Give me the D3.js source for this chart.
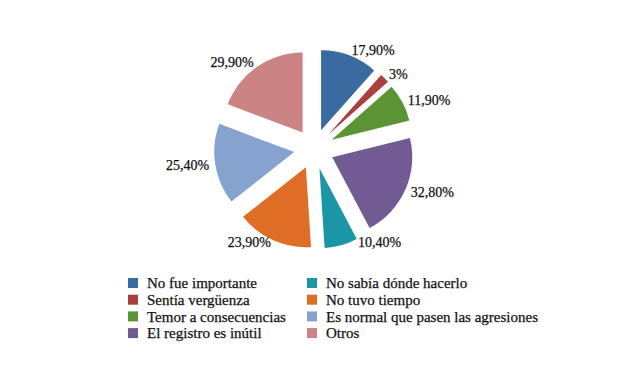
<!DOCTYPE html>
<html>
<head>
<meta charset="utf-8">
<script src="https://cdn.jsdelivr.net/npm/d3@7"></script>
<style>
  body { margin: 0; background: #fff; }
  text { font-family: "Liberation Serif", "DejaVu Serif", serif; fill: #111; stroke: #111; stroke-width: 0.25px; }
</style>
</head>
<body>
<div id="chart"></div>
<script>
// Data
const categories = [
  "No fue importante",
  "Sentía vergüenza",
  "Temor a consecuencias",
  "El registro es inútil",
  "No sabía dónde hacerlo",
  "No tuvo tiempo",
  "Es normal que pasen las agresiones",
  "Otros"
];
const values = [17.9, 3, 11.9, 32.8, 10.4, 23.9, 25.4, 29.9];
const valueLabels = ["17,90%", "3%", "11,90%", "32,80%", "10,40%", "23,90%", "25,40%", "29,90%"];
const colors = ["#3a6ba0", "#a9403c", "#5c9434", "#725b95", "#1b96a6", "#e06d25", "#86a3d0", "#cc8383"];

// Layout
const width = 620;
const height = 368;
const cx = 314;
const cy = 149;
const radius = 80;
const explode = 20;
const labelRadius = 106;

const svg = d3.select("#chart")
  .append("svg")
    .attr("width", width)
    .attr("height", height);

const rows = categories.map(function(c, i) {
  return { name: c, value: values[i], label: valueLabels[i], color: colors[i] };
});

const pie = d3.pie()
  .sort(null)
  .value(function(d) { return d.value; });

const arc = d3.arc()
  .innerRadius(0)
  .outerRadius(radius);

const slices = pie(rows);

const g = svg.append("g")
  .attr("transform", `translate(${cx},${cy})`);

function midAngle(d) { return (d.startAngle + d.endAngle) / 2; }

// exploded slices
g.selectAll("path")
  .data(slices)
  .join("path")
    .attr("d", arc)
    .attr("fill", function(d) { return d.data.color; })
    .attr("transform", function(d) {
      const mid = midAngle(d);
      return `translate(${Math.sin(mid) * explode},${-Math.cos(mid) * explode})`;
    });

// value labels
g.selectAll("text.val")
  .data(slices)
  .join("text")
    .attr("class", "val")
    .attr("x", function(d) {
      const a = midAngle(d);
      const x = Math.sin(a) * labelRadius;
      // lower-right labels stay clear of the slice above them
      return (a > Math.PI / 2 && a < Math.PI) ? Math.max(x, 44) : x;
    })
    .attr("y", function(d) {
      const y = -Math.cos(midAngle(d)) * labelRadius;
      return Math.min(y, 93); // bottom labels sit a bit higher
    })
    .attr("dy", "0.35em")
    .attr("text-anchor", function(d) {
      return midAngle(d) < Math.PI ? "start" : "end";
    })
    .style("font-size", "14px")
    .text(function(d) { return d.data.label; });

// legend
const legendX = [128, 307];
const legendY = 278;
const rowH = 16.7;

const legend = svg.append("g");

const items = legend.selectAll("g")
  .data(rows)
  .join("g")
    .attr("transform", function(d, i) {
      const col = Math.floor(i / 4);
      const row = i % 4;
      return `translate(${legendX[col]},${legendY + row * rowH})`;
    });

items.append("rect")
  .attr("width", 10)
  .attr("height", 10)
  .attr("fill", function(d) { return d.color; });

items.append("text")
  .attr("x", 19)
  .attr("y", 5)
  .attr("dy", "0.35em")
  .style("font-size", "15px")
  .text(function(d) { return d.name; });
</script>
</body>
</html>
